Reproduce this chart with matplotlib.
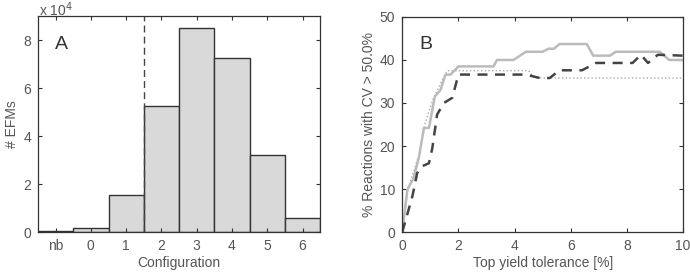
import matplotlib
matplotlib.use("Agg")
import matplotlib.pyplot as plt

plt.rcParams['font.family'] = ['Liberation Sans', 'DejaVu Sans']

# Panel A: EFM counts per configuration (x 10^4)
configs = ['nb', '0', '1', '2', '3', '4', '5', '6']
efm_counts = [0.05, 0.15, 1.55, 5.25, 8.5, 7.25, 3.2, 0.6]

# Panel B: % reactions with CV > 50% vs top yield tolerance
solid_x = [0, 0.18, 0.4, 0.6, 0.77, 0.95, 1.16, 1.36, 1.54, 1.72, 2.0, 3.25, 3.37, 3.96, 4.4, 5.0, 5.2, 5.4, 5.6, 6.57, 6.8, 7.4, 7.6, 9.17, 9.35, 9.5, 10]
solid_y = [0, 9.8, 12.5, 17.6, 24.2, 24.2, 31.5, 33.0, 36.6, 36.6, 38.5, 38.5, 40.0, 40.0, 41.9, 41.9, 42.6, 42.6, 43.7, 43.7, 41.0, 41.0, 41.9, 41.9, 40.9, 40.0, 40.0]

dashed_x = [0, 0.36, 0.53, 0.71, 0.95, 1.07, 1.24, 1.48, 1.78, 2.0, 4.4, 4.9, 5.25, 5.6, 6.4, 6.9, 8.2, 8.5, 8.75, 9.1, 10]
dashed_y = [0, 8.3, 13.7, 15.3, 16.0, 19.5, 27.3, 30.0, 31.2, 36.6, 36.6, 35.8, 35.8, 37.6, 37.6, 39.3, 39.3, 41.2, 39.3, 41.2, 41.0]

dotted_x = [0, 0.2, 0.6, 0.8, 1.1, 1.4, 1.6, 2.0, 4.5, 4.7, 10]
dotted_y = [0, 10.0, 18.0, 25.0, 31.0, 35.0, 37.5, 37.5, 37.5, 35.8, 35.8]

text_col = '#555555'
fs = 10
fig = plt.figure(figsize=(6.9, 2.73), dpi=100)

def style(ax):
    ax.tick_params(direction='in', top=True, right=True, labelsize=fs,
                   colors='#333333', labelcolor=text_col, length=3, width=0.8, pad=5)
    for s in ax.spines.values():
        s.set_color('#333333')
        s.set_linewidth(0.9)

# Panel A
ax1 = fig.add_axes([0.055, 0.150, 0.409, 0.791])
pos = list(range(len(configs)))
ax1.bar(pos, efm_counts, width=1.0, color='#d9d9d9', edgecolor='#333333', linewidth=1.0)
ax1.axvline(2.5, color='#444444', linestyle=(0, (5, 3)), linewidth=1.0)
ax1.set_xlim(-0.5, 7.5)
ax1.set_ylim(0, 9)
ax1.set_xticks(pos)
ax1.set_xticklabels(configs)
ax1.set_yticks([0, 2, 4, 6, 8])
ax1.set_xlabel('Configuration', fontsize=fs, color=text_col, labelpad=2)
ax1.set_ylabel('# EFMs', fontsize=fs, color=text_col, labelpad=3)
ax1.text(0.06, 0.91, 'A', transform=ax1.transAxes, fontsize=14, va='top', color='#333333')
style(ax1)
fig.text(0.057, 0.998, r'x 10$^{4}$', fontsize=fs, color=text_col, va='top')

# Panel B
ax2 = fig.add_axes([0.583, 0.150, 0.407, 0.788])
ax2.plot(dotted_x, dotted_y, color='#aaaaaa', linestyle=':', linewidth=1.0)
ax2.plot(solid_x, solid_y, color='#bbbbbb', linestyle='-', linewidth=1.8)
ax2.plot(dashed_x, dashed_y, color='#444444', linestyle=(0, (4, 3)), linewidth=1.8)
ax2.set_xlim(0, 10)
ax2.set_ylim(0, 50)
ax2.set_xticks([0, 2, 4, 6, 8, 10])
ax2.set_yticks([0, 10, 20, 30, 40, 50])
ax2.set_xlabel('Top yield tolerance [%]', fontsize=fs, color=text_col, labelpad=2)
ax2.set_ylabel('% Reactions with CV > 50.0%', fontsize=fs, color=text_col, labelpad=3)
ax2.text(0.06, 0.91, 'B', transform=ax2.transAxes, fontsize=14, va='top', color='#333333')
style(ax2)

fig.savefig('out.png', dpi=100)
